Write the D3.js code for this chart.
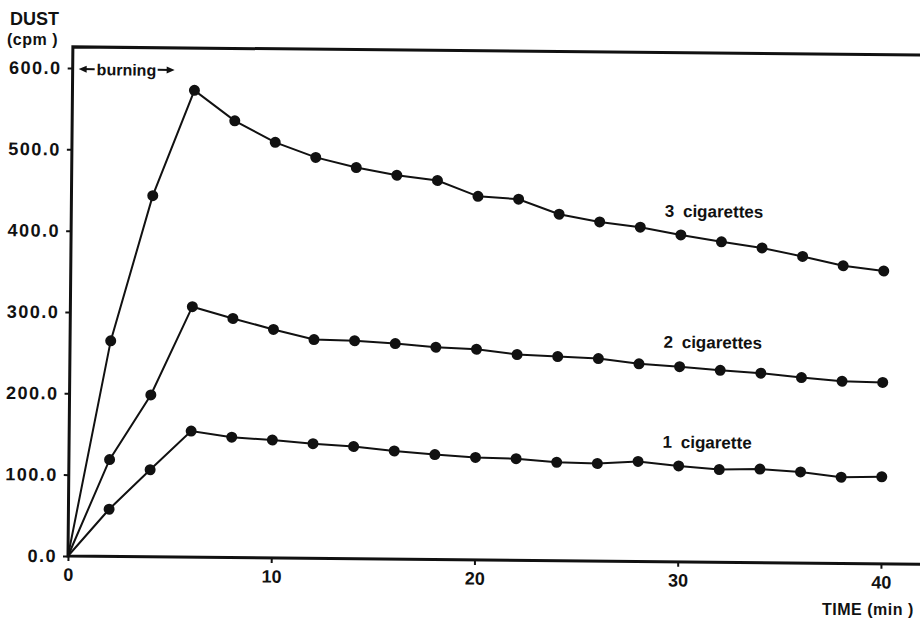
<!DOCTYPE html>
<html>
<head>
<meta charset="utf-8">
<script src="https://cdnjs.cloudflare.com/ajax/libs/d3/7.8.5/d3.min.js"></script>
<style>
  body { margin: 0; background: #fff; }
  text { font-family: "Liberation Sans", Arial, sans-serif; font-weight: bold; fill: #111; }
  .axes text { font-size: 18px; }
  .axes line { stroke: #111; stroke-width: 2px; }
</style>
</head>
<body>
<div id="chart"></div>
<script>
// Data
var times = [0, 2, 4, 6, 8, 10, 12, 14, 16, 18, 20, 22, 24, 26, 28, 30, 32, 34, 36, 38, 40]
var cig3 = [0, 265, 444, 574, 537, 511, 493, 481, 472, 466, 447, 444, 426, 417, 411, 402, 394, 387, 377, 366, 360]
var cig2 = [0, 119, 199, 308, 294, 281, 269, 268, 265, 261, 259, 253, 251, 249, 243, 240, 236, 233, 228, 224, 223]
var cig1 = [0, 58, 107, 155, 148, 145, 141, 138, 133, 129, 126, 125, 121, 120, 123, 118, 114, 115, 112, 106, 107]
var seriesNames = ["3 cigarettes", "2 cigarettes", "1 cigarette"]
var labelTime = 29.2
var labelValue = [424, 263, 140]
var yTicks = [0, 100, 200, 300, 400, 500, 600]
var xTicks = [0, 10, 20, 30, 40]

const width = 920, height = 619

var svg = d3.select("#chart")
.append("svg")
.attr("width", width)
.attr("height", height)

// the scan is slightly tilted, so the whole plot is turned a little
var plot = svg.append("g")
.attr("transform", "rotate(0.55, 68, 556)")

var x = d3.scaleLinear()
.domain([0, 40])
.range([68, 881])

var y = d3.scaleLinear()
.domain([0, 600])
.range([556, 68])

// y axis ticks and labels
plot.append("g")
.attr("class", "axes")
.attr("transform", "translate(68,0)")
.call(d3.axisLeft(y).tickValues(yTicks).tickSize(5).tickPadding(6).tickFormat(d3.format(".1f")))
.call(g => g.select(".domain").remove())
.selectAll("text")
.style("letter-spacing", "1.5px")

// x axis ticks and labels
plot.append("g")
.attr("class", "axes")
.attr("transform", "translate(0,556)")
.call(d3.axisBottom(x).tickValues(xTicks).tickSize(5).tickPadding(7).tickFormat(d3.format("d")))
.call(g => g.select(".domain").remove())

// frame: left, top and bottom lines
var frameTop = y(626)
plot.append("path")
.attr("d", "M1000," + frameTop + "H" + x(0) + "V" + y(0) + "H1000")
.style("fill", "none")
.style("stroke", "#111")
.style("stroke-width", "3px")

// series
var allSeries = [cig3, cig2, cig1]
var line = d3.line()
.x(function(d, i) { return x(times[i]) })
.y(function(d) { return y(d) })

allSeries.forEach(function(values, k) {
  plot.append("path")
  .datum(values)
  .attr("d", line)
  .style("fill", "none")
  .style("stroke", "#111")
  .style("stroke-width", "2px")

  plot.selectAll(".dot" + k)
  .data(values.slice(1))
  .enter()
  .append("circle")
  .attr("cx", function(d, i) { return x(times[i + 1]) })
  .attr("cy", function(d) { return y(d) })
  .attr("r", 5.5)
  .attr("fill", "#111")

  plot.append("text")
  .attr("x", x(labelTime))
  .attr("y", y(labelValue[k]))
  .style("font-size", "17px")
  .style("word-spacing", "4px")
  .text(seriesNames[k])
})

// burning annotation with arrows
var ay = y(600) + 1
plot.append("text")
.attr("x", x(0) + 24)
.attr("y", ay + 6)
.style("font-size", "16px")
.text("burning")

plot.append("path")
.attr("d", "M" + (x(0) + 9) + "," + ay + "H" + (x(0) + 22) +
    "M" + (x(0) + 85) + "," + ay + "H" + (x(0) + 98))
.style("stroke", "#111")
.style("stroke-width", "2px")

plot.append("path")
.attr("d", "M" + (x(0) + 6) + "," + ay + "l8,-3.5v7z" +
    "M" + (x(0) + 102) + "," + ay + "l-8,-3.5v7z")
.style("fill", "#111")

// axis titles
svg.append("text")
.attr("x", 10)
.attr("y", 25)
.style("font-size", "18px")
.text("DUST")

svg.append("text")
.attr("x", 7)
.attr("y", 45)
.style("font-size", "16px")
.style("letter-spacing", "0.5px")
.text("(cpm )")

svg.append("text")
.attr("x", 822)
.attr("y", 615)
.style("font-size", "16px")
.style("letter-spacing", "0.5px")
.text("TIME (min )")
</script>
</body>
</html>
